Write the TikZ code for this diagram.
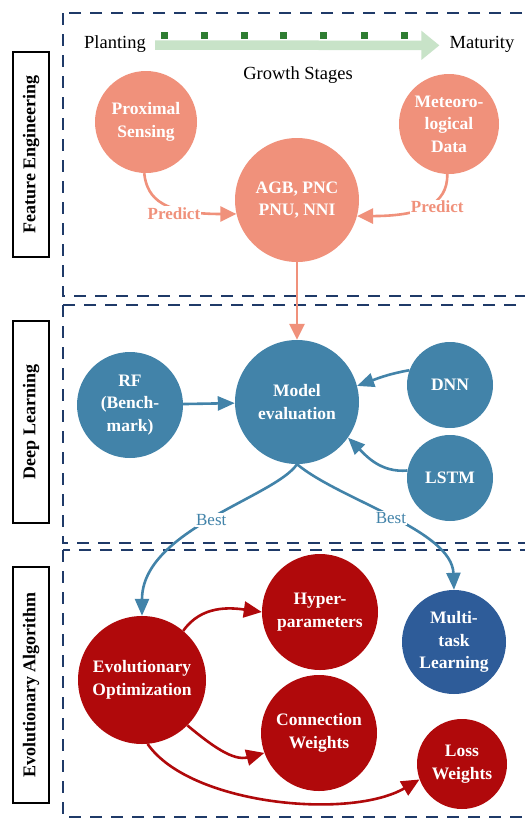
\documentclass[tikz,border=0pt]{standalone}
\usepackage{fontspec}
\setmainfont{LiberationSerif}[Extension=.ttf, UprightFont=*-Regular, BoldFont=*-Bold, ItalicFont=*-Italic, BoldItalicFont=*-BoldItalic]
\usetikzlibrary{arrows.meta}
\definecolor{salmon}{HTML}{F0917B}
\definecolor{steel}{HTML}{4283A9}
\definecolor{deepblue}{HTML}{2E5C99}
\definecolor{crimson}{HTML}{B0090B}
\definecolor{navy}{HTML}{1F3A68}
\definecolor{leaf}{HTML}{C8E3C8}
\definecolor{darkleaf}{HTML}{2E7D32}
\begin{document}
\begin{tikzpicture}[x=1pt,y=1pt,
  circ/.style={circle, draw=none, inner sep=0pt, text=white, align=center,
    font=\fontsize{17.5}{22.5}\selectfont\bfseries},
  fe/.style={circ, fill=salmon},
  dl/.style={circ, fill=steel},
  ea/.style={circ, fill=crimson},
  panel/.style={draw=navy, line width=2.6pt, dash pattern=on 12pt off 9pt},
  tag/.style={draw=black, line width=2.4pt, fill=white, rotate=90,
    minimum height=36pt, inner sep=0pt, font=\fontsize{18}{22}\selectfont\bfseries},
  plain/.style={inner sep=0pt, font=\fontsize{18.5}{22}\selectfont},
  oarrow/.style={draw=salmon, line width=2.6pt, -{Triangle[length=16pt,width=15pt]}},
  barrow/.style={draw=steel, line width=2.6pt, -{Triangle[length=17pt,width=14pt]}},
  rarrow/.style={draw=crimson, line width=2.6pt, -{Triangle[length=18pt,width=16pt]}},
  predlbl/.style={fill=white, inner sep=1pt, text=salmon, font=\fontsize{17}{20}\selectfont\bfseries},
  bestlbl/.style={fill=white, inner sep=1pt, text=steel, font=\fontsize{17}{20}\selectfont},
]
\useasboundingbox (0,0) rectangle (525,-820);
\fill[white] (0,0) rectangle (525,-820);

% dashed section frames
\draw[panel] (63,-13) rectangle (545,-296);
\draw[panel] (63,-305) rectangle (545,-543);
\draw[panel] (63,-550) rectangle (545,-817);

% section tags
\node[tag, minimum width=205pt] (tagfe) at (31,-154.5) {Feature Engineering};
\node[tag, minimum width=202pt] (tagdl) at (31,-422) {Deep Learning};
\node[tag, minimum width=236pt] (tagea) at (31,-685) {Evolutionary Algorithm};

% growth stages timeline
\node[plain, anchor=base] (plant) at (115,-48) {Planting};
\node[plain, anchor=base] (mat) at (482,-48) {Maturity};
\node[plain, anchor=base] (stages) at (298,-79) {Growth Stages};
\draw[draw=leaf, line width=9.5pt, -{Triangle[length=18pt,width=28pt]},
  shorten <=9pt, shorten >=10pt]
  ([yshift=-1.5pt]plant.east) -- ([yshift=-1.5pt]mat.west);
\foreach \x in {164,204,244,283,323,364,404}
  \fill[darkleaf] (\x-3.5,-31.5) rectangle ++(7,-7.5);

% feature engineering
\node[fe, minimum size=102pt] (prox) at (146,-122) {Proximal\\Sensing};
\node[fe, minimum size=124pt] (agb) at (297,-200) {AGB, PNC\\PNU, NNI};
\node[fe, minimum size=100pt] (met) at (449,-124) {Meteoro-\\logical\\Data};

\draw[oarrow] (prox.-92) .. controls (147,-200) and (165,-214) .. (agb.193)
  node[pos=0.6, yshift=-6pt, predlbl] {Predict};
\draw[oarrow] (met.-92) .. controls (448,-205) and (420,-216) .. (agb.-15)
  node[pos=0.35, yshift=-7pt, predlbl] {Predict};

% deep learning
\node[dl, minimum size=124pt] (model) at (297,-402) {Model\\evaluation};
\node[dl, minimum size=106pt] (rf) at (130,-405) {RF\\(Bench-\\mark)};
\node[dl, minimum size=86pt] (dnn) at (450,-385) {DNN};
\node[dl, minimum size=86pt] (lstm) at (450,-478) {LSTM};

\draw[oarrow] (agb) -- (model);
\draw[barrow] (rf) -- (model);
\draw[barrow] (dnn.160) to[out=190, in=20] (model.15);
\draw[barrow] (lstm.170) to[out=185, in=-45] (model.-35);

% evolutionary algorithm
\node[ea, minimum size=128pt] (evol) at (142,-680) {Evolutionary\\Optimization};
\node[ea, minimum size=116pt] (hyper) at (320,-612) {Hyper-\\parameters};
\node[ea, minimum size=116pt] (conn) at (319,-733) {Connection\\Weights};
\node[circ, fill=deepblue, minimum size=104pt] (multi) at (454,-642) {Multi-\\task\\Learning};
\node[ea, minimum size=90pt] (loss) at (462,-764) {Loss\\Weights};

\draw[barrow] (model.south) .. controls (275,-497) and (142,-530) .. (evol.north)
  node[pos=0.5, bestlbl] {Best};
\draw[barrow] (model.south) .. controls (340,-500) and (452,-530) .. (multi.north)
  node[pos=0.5, bestlbl] {Best};

\draw[rarrow] (evol.50) to[out=55, in=172] (hyper.west);
\draw[rarrow] (evol.-45) to[out=-40, in=195] (conn.200);
\draw[rarrow] (evol.-85) .. controls (190,-805) and (350,-820) .. (loss.200);
\end{tikzpicture}
\end{document}
